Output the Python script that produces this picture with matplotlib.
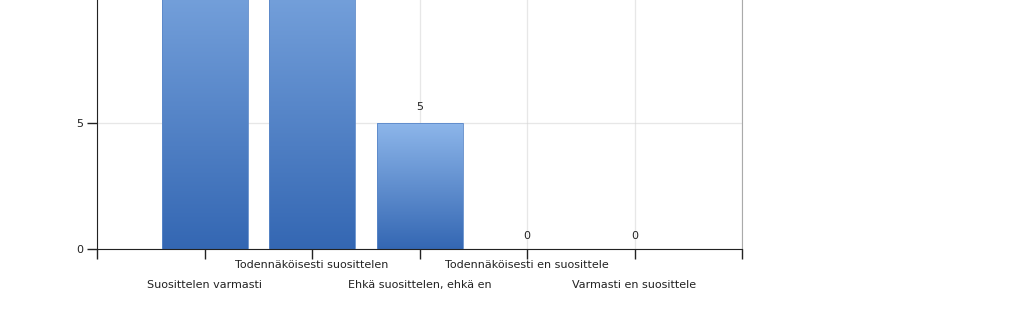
import numpy as np
import matplotlib
matplotlib.use("Agg")
import matplotlib.pyplot as plt
from matplotlib.colors import LinearSegmentedColormap

# Survey answers (bars 1 and 2 run off the top of the visible chart)
categories = [
    "Suosittelen varmasti",
    "Todennäköisesti suosittelen",
    "Ehkä suosittelen, ehkä en",
    "Todennäköisesti en suosittele",
    "Varmasti en suosittele",
]
counts = [14, 14, 5, 0, 0]
y_ticks = [0, 5]

fig = plt.figure(figsize=(10.23, 3.26), dpi=100)
ax = fig.add_axes([97 / 1023, 77 / 326, 645 / 1023, 249 / 326])

x = np.arange(1, len(categories) + 1)
bar_w = 0.8
ymax = 249 / 25.2

cmap = LinearSegmentedColormap.from_list("bar", ["#3467b3", "#8db6ea"])
grad = np.linspace(0, 1, 256).reshape(-1, 1)

bars = ax.bar(x, counts, width=bar_w, facecolor="none",
              edgecolor="#5a87c8", linewidth=0.6, zorder=3)
for b, v in zip(bars, counts):
    if v <= 0:
        continue
    im = ax.imshow(grad, cmap=cmap, origin="lower", aspect="auto",
                   extent=(b.get_x(), b.get_x() + bar_w, 0, v), zorder=2)
    im.set_clip_path(b)

# value labels, only where they fall inside the visible area
for xi, v in zip(x, counts):
    if v + 1 > ymax:
        continue
    off = 0.45 if v > 0 else 0.3
    ax.text(xi, v + off, str(v), ha="center", va="bottom",
            fontsize=8, color="#222222", zorder=5)

ax.set_xlim(0, 6)
ax.set_ylim(0, ymax)

ax.set_xticks(range(7))
ax.set_xticklabels([""] + categories + [""], fontsize=8, color="#222222")
ax.set_yticks(y_ticks)
ax.set_yticklabels([str(t) for t in y_ticks], fontsize=8, color="#222222")
ax.tick_params(axis="both", length=7, width=1, color="#222222")
ax.tick_params(axis="y", pad=3)

# alternate tick labels onto two rows
for i, t in enumerate(ax.xaxis.get_major_ticks()):
    t.set_pad(1 if i % 2 == 0 else 15)

ax.grid(True, color="#d4d4d4", linewidth=0.9, zorder=4)
for line in ax.get_xgridlines() + ax.get_ygridlines():
    line.set_alpha(0.55)

ax.spines["top"].set_visible(False)
ax.spines["right"].set_color("#aaaaaa")
ax.spines["left"].set_color("#222222")
ax.spines["bottom"].set_color("#222222")

fig.savefig("out.png", dpi=100)
